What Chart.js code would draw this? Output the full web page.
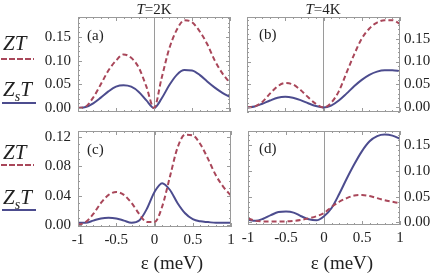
<!DOCTYPE html>
<html>
<head>
<meta charset="utf-8">
<script src="https://cdn.jsdelivr.net/npm/chart.js@4.4.0/dist/chart.umd.min.js"></script>
<style>
  body { margin: 0; background: #fff; }
  #wrap { position: relative; width: 436px; height: 274px; font-family: 'Liberation Serif', 'Times New Roman', serif; color: #222; overflow: hidden; }
  canvas { position: absolute; left: 0; top: 0; }
  .t { position: absolute; white-space: nowrap; line-height: 1; }
  .dash { position: absolute; height: 2px; background: repeating-linear-gradient(to right, #a9475a 0 6px, transparent 6px 8px); }
  .solid { position: absolute; height: 2px; background: #4c4c8e; }
</style>
</head>
<body>
<div id="wrap">
  <canvas id="panelA" width="436" height="274"></canvas>
  <canvas id="panelB" width="436" height="274"></canvas>
  <canvas id="panelC" width="436" height="274"></canvas>
  <canvas id="panelD" width="436" height="274"></canvas>

  <!-- títulos de columna -->
  <div class="t" style="left:104px; width:100px; text-align:center; top:2px; font-size:15px;"><i>T</i>=2K</div>
  <div class="t" style="left:273px; width:100px; text-align:center; top:2px; font-size:15px;"><i>T</i>=4K</div>

  <!-- etiquetas de panel -->
  <div class="t" style="left:87px; top:28px; font-size:15px;">(a)</div>
  <div class="t" style="left:259px; top:27px; font-size:15px;">(b)</div>
  <div class="t" style="left:87px; top:142px; font-size:15px;">(c)</div>
  <div class="t" style="left:259px; top:141px; font-size:15px;">(d)</div>

  <!-- leyenda fila superior -->
  <div class="t" style="left:3px; top:33px; font-size:21px; font-style:italic;">ZT</div>
  <div class="dash" style="left:1px; top:58px; width:33px;"></div>
  <div class="t" style="left:3px; top:79px; font-size:21px; font-style:italic;">Z<sub style="font-size:14px;">s</sub>T</div>
  <div class="solid" style="left:2px; top:102px; width:34px;"></div>

  <!-- leyenda fila inferior -->
  <div class="t" style="left:3px; top:142px; font-size:21px; font-style:italic;">ZT</div>
  <div class="dash" style="left:1px; top:164px; width:33px;"></div>
  <div class="t" style="left:3px; top:187px; font-size:21px; font-style:italic;">Z<sub style="font-size:14px;">s</sub>T</div>
  <div class="solid" style="left:2px; top:209px; width:34px;"></div>

  <!-- etiquetas del eje x -->
  <div class="t" style="left:122px; width:100px; text-align:center; top:253px; font-size:19px;">ε (meV)</div>
  <div class="t" style="left:292px; width:100px; text-align:center; top:253px; font-size:19px;">ε (meV)</div>
</div>

<script>
// Valores de energía (meV) donde se leyeron las curvas.
const energias = [-1, -0.9, -0.8, -0.7, -0.6, -0.5, -0.4, -0.3, -0.2, -0.1, 0, 0.1, 0.2, 0.3, 0.4, 0.5, 0.6, 0.7, 0.8, 0.9, 1];

// Panel (a): T=2K, fila superior.
const ztA  = [0, 0.003, 0.022, 0.05, 0.079, 0.1, 0.113, 0.106, 0.085, 0.045, 0, 0.063, 0.125, 0.165, 0.185, 0.181, 0.162, 0.135, 0.1, 0.073, 0.053];
const zstA = [0, 0.002, 0.01, 0.022, 0.035, 0.045, 0.048, 0.045, 0.034, 0.016, 0, 0.02, 0.048, 0.07, 0.08, 0.079, 0.07, 0.056, 0.043, 0.032, 0.023];

// Panel (b): T=4K, fila superior.
const ztB  = [0, 0.002, 0.012, 0.03, 0.046, 0.053, 0.05, 0.038, 0.022, 0.008, 0, 0.01, 0.035, 0.075, 0.115, 0.15, 0.172, 0.185, 0.19, 0.19, 0.182];
const zstB = [0, 0.002, 0.008, 0.015, 0.021, 0.023, 0.021, 0.016, 0.009, 0.003, 0, 0.004, 0.015, 0.03, 0.046, 0.06, 0.071, 0.078, 0.081, 0.081, 0.079];

// Panel (c): T=2K, fila inferior.
const ztC  = [0, 0.004, 0.015, 0.03, 0.041, 0.045, 0.041, 0.03, 0.015, 0.004, 0.004, 0.025, 0.065, 0.105, 0.123, 0.122, 0.11, 0.09, 0.068, 0.052, 0.04];
const zstC = [0.003, 0.003, 0.006, 0.009, 0.01, 0.009, 0.006, 0.003, 0.006, 0.022, 0.045, 0.057, 0.048, 0.03, 0.016, 0.008, 0.005, 0.004, 0.003, 0.003, 0.003];

// Panel (d): T=4K, fila inferior.
const ztD  = [0.008, 0.003, 0.002, 0.002, 0.002, 0.002, 0.003, 0.005, 0.008, 0.012, 0.018, 0.03, 0.04, 0.047, 0.052, 0.053, 0.051, 0.047, 0.043, 0.04, 0.037];
const zstD = [0.005, 0.003, 0.007, 0.014, 0.02, 0.021, 0.019, 0.012, 0.006, 0.004, 0.012, 0.028, 0.055, 0.085, 0.113, 0.138, 0.157, 0.167, 0.17, 0.168, 0.162];

// Marcas de los ejes.
const ticksX = [-1, -0.5, 0, 0.5, 1];
const ticksYSup = [0, 0.05, 0.1, 0.15];
const ticksYC = [0, 0.04, 0.08, 0.12];
const ticksYD = [0, 0.05, 0.1, 0.15];

const ROJO = '#a9475a';
const AZUL = '#4c4c8e';
const MARCO = '#9a9a9a';
const ANCHO_Y = 40;

// Plugin que dibuja el marco con las marcas hacia adentro, al estilo Mathematica.
const marcoPlugin = {
    id: 'marco',
    afterDraw(chart, args, opts) {
        const { ctx, chartArea: a, scales: { x, y } } = chart;
        ctx.save();
        ctx.strokeStyle = MARCO;
        ctx.lineWidth = 1;
        ctx.strokeRect(Math.round(a.left) + 0.5, Math.round(a.top) + 0.5, Math.round(a.right - a.left) - 1, Math.round(a.bottom - a.top) - 1);
        ctx.beginPath();
        // Marcas en x cada 0.1, mayores cada 0.5.
        for (let i = -10; i <= 10; i++) {
            const px = Math.round(x.getPixelForValue(i / 10)) + 0.5;
            const len = i % 5 === 0 ? 4 : 2;
            ctx.moveTo(px, a.bottom); ctx.lineTo(px, a.bottom - len);
            ctx.moveTo(px, a.top); ctx.lineTo(px, a.top + len);
        }
        // Marcas en y cada 0.01.
        const paso = opts.menor;
        for (let k = Math.ceil(y.min / paso); k <= Math.floor(y.max / paso); k++) {
            const v = k * paso;
            const py = Math.round(y.getPixelForValue(v)) + 0.5;
            const mayor = Math.abs(v / opts.mayor - Math.round(v / opts.mayor)) < 1e-6;
            const len = mayor ? 4 : 2;
            ctx.moveTo(a.left, py); ctx.lineTo(a.left + len, py);
            ctx.moveTo(a.right, py); ctx.lineTo(a.right - len, py);
        }
        ctx.stroke();
        ctx.restore();
    }
};

// Función para crear cada panel en su propio canvas, ubicado con el padding del layout.
const crearPanel = (id, zt, zst, caja, yMin, yMax, ticksY, mayor, ladoY, conEjeX) => {
    const altoX = conEjeX ? 22 : 0;
    const padding = {
        top: caja.top,
        bottom: 274 - caja.bottom - altoX,
        left: ladoY === 'left' ? caja.left - ANCHO_Y : caja.left,
        right: ladoY === 'left' ? 436 - caja.right : 436 - caja.right - ANCHO_Y
    };
    new Chart(document.getElementById(id), {
        type: 'line',
        data: {
            datasets: [{
                data: energias.map((e, i) => ({ x: e, y: zt[i] })),
                borderColor: ROJO,
                borderWidth: 2,
                borderDash: [5, 3],
                pointRadius: 0,
                cubicInterpolationMode: 'monotone',
                fill: false
            }, {
                data: energias.map((e, i) => ({ x: e, y: zst[i] })),
                borderColor: AZUL,
                borderWidth: 2,
                pointRadius: 0,
                cubicInterpolationMode: 'monotone',
                fill: false
            }]
        },
        options: {
            responsive: false,
            animation: false,
            layout: { padding },
            plugins: {
                legend: { display: false },
                tooltip: { enabled: false },
                marco: { menor: 0.01, mayor }
            },
            scales: {
                x: {
                    type: 'linear',
                    min: -1,
                    max: 1,
                    afterBuildTicks: s => { s.ticks = ticksX.map(v => ({ value: v })); },
                    afterFit: s => { s.height = altoX; },
                    border: { display: false },
                    grid: {
                        drawTicks: false,
                        color: c => (c.tick && c.tick.value === 0) ? MARCO : 'rgba(0,0,0,0)'
                    },
                    ticks: {
                        display: conEjeX,
                        padding: 4,
                        maxRotation: 0,
                        color: '#222',
                        font: { family: "'Liberation Serif', serif", size: 15 },
                        callback: v => String(Math.round(v * 10) / 10)
                    }
                },
                y: {
                    type: 'linear',
                    position: ladoY,
                    min: yMin,
                    max: yMax,
                    afterBuildTicks: s => { s.ticks = ticksY.map(v => ({ value: v })); },
                    afterFit: s => { s.width = ANCHO_Y; },
                    border: { display: false },
                    grid: { display: false, drawTicks: false },
                    ticks: {
                        padding: ladoY === 'left' ? 7 : 4,
                        color: '#222',
                        font: { family: "'Liberation Serif', serif", size: 15 },
                        callback: v => v.toFixed(2)
                    }
                }
            }
        },
        plugins: [marcoPlugin]
    });
};

document.addEventListener('DOMContentLoaded', () => {
    crearPanel('panelA', ztA, zstA, { left: 78, right: 230, top: 17, bottom: 112 }, -0.0084, 0.192, ticksYSup, 0.05, 'left', false);
    crearPanel('panelB', ztB, zstB, { left: 247, right: 400, top: 17, bottom: 112 }, -0.01, 0.197, ticksYSup, 0.05, 'right', false);
    crearPanel('panelC', ztC, zstC, { left: 78, right: 231, top: 131, bottom: 227 }, -0.0027, 0.128, ticksYC, 0.04, 'left', true);
    crearPanel('panelD', ztD, zstD, { left: 248, right: 400, top: 131, bottom: 225 }, -0.005, 0.177, ticksYD, 0.05, 'right', true);
});
</script>
</body>
</html>
